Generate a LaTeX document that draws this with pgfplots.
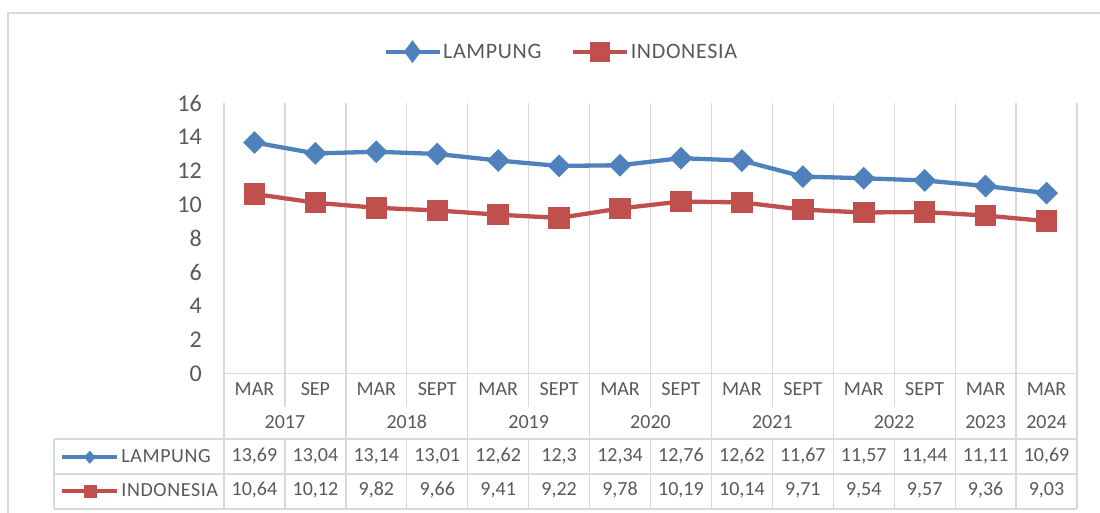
\documentclass[border=0pt]{standalone}
\usepackage{pgfplots}
\pgfplotsset{compat=1.18}
\usepackage{fontspec}
\setmainfont{Carlito}
\definecolor{lblue}{HTML}{4F81BD}
\definecolor{lred}{HTML}{C0504D}
\definecolor{txt}{HTML}{595959}
\definecolor{grd}{HTML}{D9D9D9}
\newcommand{\tfont}{\fontsize{20}{24}\selectfont}
\newcommand{\lfont}{\fontsize{22}{26}\selectfont\addfontfeature{LetterSpace=3}}
\newcommand{\rfont}{\fontsize{20}{24}\selectfont\addfontfeature{LetterSpace=3}}
\begin{document}
\begin{tikzpicture}[x=1pt,y=1pt]
\useasboundingbox (-224,-139.5) rectangle (876,373.5);
\draw[grd, line width=1.5pt] (-216,360.5) rectangle (950,-220);
\begin{axis}[
  at={(0,0)}, anchor=south west,
  scale only axis, width=853pt, height=270pt,
  xmin=0, xmax=14, ymin=0, ymax=16,
  clip=false,
  axis line style={draw=none},
  major tick length=0pt,
  xtick={0,...,14}, xticklabels={},
  xmajorgrids, grid style={grd, line width=1.3pt},
  ytick={0,2,...,16},
  /pgf/number format/assume math mode=true,
  yticklabel style={font=\fontsize{24}{28}\selectfont, text=txt, anchor=east, inner sep=0pt, xshift=-22pt},
  legend columns=2,
  legend style={at={(0.395,1.192)}, anchor=center, draw=none, fill=none, inner sep=0pt,
    font=\lfont, text=txt, nodes={inner sep=1.5pt},
    /tikz/every even column/.append style={column sep=28pt}},
]
\addplot[lblue, line width=4.3pt, mark=square*, mark size=5.9pt, mark options={rotate=45, draw=none, fill=lblue},
  legend image code/.code={\draw[lblue, line width=4.3pt] (0pt,0pt) -- (54pt,0pt);
    \fill[lblue] (27pt,7.85pt) -- (32.9pt,0pt) -- (27pt,-7.85pt) -- (21.1pt,0pt) -- cycle;}]
coordinates {(0.5,13.69) (1.5,13.04) (2.5,13.14) (3.5,13.01) (4.5,12.62) (5.5,12.3) (6.5,12.34) (7.5,12.76) (8.5,12.62) (9.5,11.67) (10.5,11.57) (11.5,11.44) (12.5,11.11) (13.5,10.69)};
\addlegendentry{LAMPUNG}
\addplot[lred, line width=4.3pt, mark=square*, mark size=8.6pt, mark options={draw=none, fill=lred},
  legend image code/.code={\draw[lred, line width=4.3pt] (0pt,0pt) -- (54pt,0pt);
    \fill[lred] (19pt,-8pt) rectangle (35pt,8pt);}]
coordinates {(0.5,10.64) (1.5,10.12) (2.5,9.82) (3.5,9.66) (4.5,9.41) (5.5,9.22) (6.5,9.78) (7.5,10.19) (8.5,10.14) (9.5,9.71) (10.5,9.54) (11.5,9.57) (12.5,9.36) (13.5,9.03)};
\addlegendentry{INDONESIA}
\end{axis}
\begin{axis}[
  at={(-170pt,-135.5pt)}, anchor=south west,
  scale only axis, width=170pt, height=70pt, hide axis,
  xmin=0, xmax=1, ymin=0, ymax=1,
  legend cell align=left,
  legend style={at={(0.035,0.5)}, anchor=west, draw=none, fill=none, inner sep=0pt,
    font=\rfont, text=txt, nodes={inner sep=2pt}, /tikz/row sep=15pt},
]
\addlegendimage{legend image code/.code={\draw[lblue, line width=4.3pt] (0pt,0pt) -- (55pt,0pt);
    \fill[lblue] (27.5pt,6.15pt) -- (33pt,0pt) -- (27.5pt,-6.15pt) -- (22pt,0pt) -- cycle;}}
\addlegendentry{LAMPUNG}
\addlegendimage{legend image code/.code={\draw[lred, line width=4.3pt] (0pt,0pt) -- (55pt,0pt);
    \fill[lred] (21.5pt,-6pt) rectangle (33.5pt,6pt);}}
\addlegendentry{INDONESIA}
\end{axis}
\def\cw{60.92857}
\begin{scope}[grd, line width=1.3pt]
\draw (0,0) -- (853,0);
\foreach \yy in {-65.5,-100.5,-135.5} \draw (-170,\yy) -- (853,\yy);
\draw (-170,-65.5) -- (-170,-135.5);
\foreach \k in {0,2,4,6,8,10,12,13,14} \draw (\k*\cw,0) -- (\k*\cw,-135.5);
\foreach \k in {1,3,5,7,9,11} {\draw (\k*\cw,0) -- (\k*\cw,-33.5); \draw (\k*\cw,-65.5) -- (\k*\cw,-135.5);}
\end{scope}
\begin{scope}[every node/.style={font=\tfont, text=txt, inner sep=0pt}]
\foreach \m [count=\i from 0] in {MAR,SEP,MAR,SEPT,MAR,SEPT,MAR,SEPT,MAR,SEPT,MAR,SEPT,MAR,MAR}
  \node at ({(\i+0.5)*\cw},-15.5) {\m};
\foreach \yr/\c in {2017/1,2018/3,2019/5,2020/7,2021/9,2022/11,2023/12.5,2024/13.5}
  \node at ({\c*\cw},-48.5) {\yr};
\pgfkeys{/pgf/number format/.cd, assume math mode=true, use comma, fixed, precision=2}
\foreach \v [count=\i from 0] in {13.69,13.04,13.14,13.01,12.62,12.3,12.34,12.76,12.62,11.67,11.57,11.44,11.11,10.69}
  \node at ({(\i+0.5)*\cw},-82.5) {\pgfmathprintnumber{\v}};
\foreach \v [count=\i from 0] in {10.64,10.12,9.82,9.66,9.41,9.22,9.78,10.19,10.14,9.71,9.54,9.57,9.36,9.03}
  \node at ({(\i+0.5)*\cw},-116.5) {\pgfmathprintnumber{\v}};
\end{scope}
\end{tikzpicture}
\end{document}
